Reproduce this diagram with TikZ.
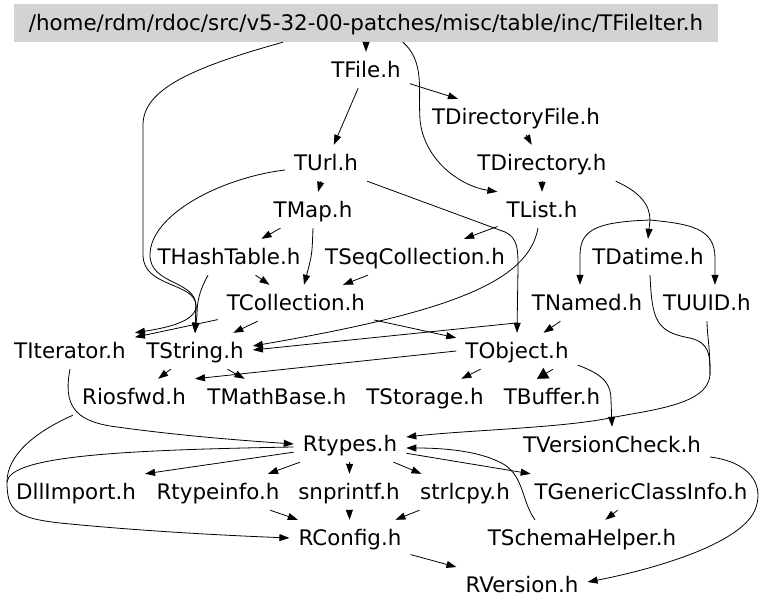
\documentclass[tikz,border=0pt]{standalone}
\usepackage{fontspec}
\setmainfont{DejaVu Sans}
\usepackage{tikz}
\usetikzlibrary{arrows.meta,calc}
\definecolor{incgray}{HTML}{D3D3D3}
\tikzset{
  hdrNode/.style={inner xsep=9pt, inner ysep=0pt, minimum height=36pt, text height=15.6pt, text depth=0pt, font=\fontsize{21.4pt}{26pt}\selectfont},
  rootNode/.style={hdrNode, fill=incgray, minimum width=704pt, minimum height=38pt},
  incArrow/.style={-{Triangle[length=10pt,width=7pt]}, line width=0.8pt},
  incLine/.style={line width=0.8pt}
}

\begin{document}
\begin{tikzpicture}[x=1pt,y=-1pt]
  \useasboundingbox (0,0) rectangle (768,609);
  % header files
  \node[rootNode] (root) at (366,23) {/home/rdm/rdoc/src/v5-32-00-patches/misc/table/inc/TFileIter.h};
  \node[hdrNode] (TFile) at (366,70) {TFile.h};
  \node[hdrNode] (TDirectoryFile) at (516,117) {TDirectoryFile.h};
  \node[hdrNode] (TUrl) at (326,163) {TUrl.h};
  \node[hdrNode] (TDirectory) at (542,163) {TDirectory.h};
  \node[hdrNode] (TMap) at (313,210) {TMap.h};
  \node[hdrNode] (TList) at (542,210) {TList.h};
  \node[hdrNode] (THashTable) at (229,257) {THashTable.h};
  \node[hdrNode] (TSeqCollection) at (415,257) {TSeqCollection.h};
  \node[hdrNode] (TDatime) at (648,257) {TDatime.h};
  \node[hdrNode] (TCollection) at (296,303) {TCollection.h};
  \node[hdrNode] (TNamed) at (587,303) {TNamed.h};
  \node[hdrNode] (TUUID) at (707,303) {TUUID.h};
  \node[hdrNode] (TIterator) at (70,351) {TIterator.h};
  \node[hdrNode] (TString) at (195,351) {TString.h};
  \node[hdrNode] (TObject) at (517,351) {TObject.h};
  \node[hdrNode] (Riosfwd) at (134,397) {Riosfwd.h};
  \node[hdrNode] (TMathBase) at (277,397) {TMathBase.h};
  \node[hdrNode] (TStorage) at (425,397) {TStorage.h};
  \node[hdrNode] (TBuffer) at (552,397) {TBuffer.h};
  \node[hdrNode] (Rtypes) at (350,444) {Rtypes.h};
  \node[hdrNode] (TVersionCheck) at (612,445) {TVersionCheck.h};
  \node[hdrNode] (DllImport) at (76,492) {DllImport.h};
  \node[hdrNode] (Rtypeinfo) at (218,492) {Rtypeinfo.h};
  \node[hdrNode] (snprintf) at (349,492) {snprintf.h};
  \node[hdrNode] (strlcpy) at (465,492) {strlcpy.h};
  \node[hdrNode] (TGenericClassInfo) at (641,492) {TGenericClassInfo.h};
  \node[hdrNode] (RConfig) at (350,538) {RConfig.h};
  \node[hdrNode] (TSchemaHelper) at (582,538) {TSchemaHelper.h};
  \node[hdrNode] (RVersion) at (522,585) {RVersion.h};

  % includes
  \draw[incArrow] (root) -- (TFile);
  \draw[incLine] ($(root.south)+(-83,0)$) .. controls (190,68) and (143,90) .. (143,125) -- (143,255) .. controls (143,288) and (196,282) .. (196,306) coordinate (strJoin);
  \draw[incArrow] (strJoin) -- (TString.north);
  \draw[incArrow] (strJoin) .. controls (196,322) and (165,328) .. (TIterator.north east);
  \draw[incArrow] ($(root.south)+(37,0)$) .. controls (425,62) and (418,90) .. (420,120) .. controls (424,160) and (460,186) .. (TList.north west);

  \draw[incArrow] (TFile) -- (TUrl);
  \draw[incArrow] (TFile) -- (TDirectoryFile);
  \draw[incArrow] (TDirectoryFile) -- (TDirectory);
  \draw[incArrow] (TDirectory) -- (TList);
  \draw[incLine] (TDirectory.south east) .. controls (640,192) and (650,205) .. (650,220) coordinate (dirSplit);
  \draw[incArrow] (dirSplit) -- (TDatime.north);
  \draw[incArrow] (dirSplit) .. controls (600,222) and (580,228) .. (580,255) -- ($(TNamed.north)+(-7,0)$);
  \draw[incArrow] (dirSplit) .. controls (690,224) and (715,228) .. (715,258) -- ($(TUUID.north)+(8,0)$);

  \draw[incArrow] (TUrl) -- (TMap);
  \draw[incArrow] ($(TUrl.west)+(0,7)$) .. controls (220,178) and (150,215) .. (150,255) .. controls (150,285) and (196,280) .. (strJoin) -- (TString.north);
  \draw[incArrow] (TUrl.south east) -- (505,232) .. controls (518,238) and (518,250) .. (518,268) -- (TObject.north);
  \coordinate (objSplit) at ($(TObject.north)+(1,-10)$);

  \draw[incArrow] (TMap) -- (THashTable);
  \draw[incArrow] (TMap.south) .. controls (312,255) .. ($(TCollection.north)+(8,0)$);
  \draw[incArrow] (THashTable) -- (TCollection);
  \draw[incArrow] ($(THashTable.south)+(-21,0)$) .. controls (200,290) and (197,300) .. (197,315) -- (TString.north);
  \draw[incArrow] (TSeqCollection) -- (TCollection);
  \draw[incArrow] (TList) -- (TSeqCollection);
  \draw[incArrow] ($(TList.south)+(-4,0)$) .. controls (528,282) and (450,312) .. ($(TString.east)+(0,-5)$);

  \draw[incArrow] (TCollection) -- (TIterator);
  \draw[incArrow] (TCollection) -- (TString);
  \draw[incArrow] (TCollection) -- (TObject);
  \draw[incArrow] (TNamed) -- (TObject);
  \draw[incArrow] (objSplit) -- ($(TString.east)+(0,-1)$);

  \draw[incLine] ($(TDatime.south)+(2,0)$) .. controls (652,320) and (656,332) .. (690,338) .. controls (710,343) and (710,355) .. (710,375) coordinate (uuidJoin);
  \draw[incLine] (TUUID.south) .. controls (707,335) and (710,345) .. (uuidJoin);
  \draw[incArrow] (uuidJoin) .. controls (708,405) and (650,410) .. (610,418) .. controls (560,428) and (470,430) .. ($(Rtypes.east)+(0,-7)$);

  \draw[incArrow] (TString) -- (Riosfwd);
  \draw[incArrow] (TString) -- (TMathBase);
  \draw[incArrow] (TObject.west) -- (Riosfwd.north east);
  \draw[incArrow] (TObject) -- (TStorage);
  \draw[incArrow, -{Triangle[length=11pt,width=12pt]}] ($(TObject.south)+(36,0)$) -- ($(TBuffer.north)+(-15,0)$);
  \draw[incArrow] ($(TObject.south east)+(0,-4)$) .. controls (605,375) and (611,385) .. (611,400) -- (TVersionCheck.north);

  \draw[incArrow] (TIterator.south) .. controls (63,405) and (75,420) .. (110,426) .. controls (180,436) and (250,441) .. (Rtypes.west);
  \draw[incLine] (Riosfwd.south west) .. controls (35,432) and (7,455) .. (7,482) coordinate (cfgBend);
  \draw[incLine] ($(Rtypes.west)+(0,3)$) .. controls (120,450) and (10,456) .. (cfgBend);
  \draw[incArrow] (cfgBend) .. controls (7,510) and (15,518) .. (60,523) .. controls (150,532) and (240,536) .. (RConfig.west);

  \draw[incArrow] (Rtypes) -- (DllImport.north east);
  \draw[incArrow] (Rtypes) -- (Rtypeinfo);
  \draw[incArrow] (Rtypes) -- (snprintf);
  \draw[incArrow] (Rtypes) -- (strlcpy);
  \draw[incArrow] (Rtypes) -- (TGenericClassInfo);
  \draw[incArrow] ($(TSchemaHelper.north)+(-47,0)$) .. controls (522,502) and (524,478) .. (505,465) .. controls (480,450) and (440,448) .. ($(Rtypes.east)+(0,4)$);
  \draw[incArrow] (TGenericClassInfo) -- (TSchemaHelper);
  \draw[incArrow] ($(TVersionCheck.east)+(0,12)$) .. controls (750,462) and (765,485) .. (755,510) .. controls (740,545) and (650,570) .. ($(RVersion.east)+(0,-3)$);

  \draw[incArrow] (Rtypeinfo) -- (RConfig);
  \draw[incArrow] (snprintf) -- (RConfig);
  \draw[incArrow] (strlcpy) -- (RConfig);
  \draw[incArrow] (RConfig) -- (RVersion);
\end{tikzpicture}
\end{document}
